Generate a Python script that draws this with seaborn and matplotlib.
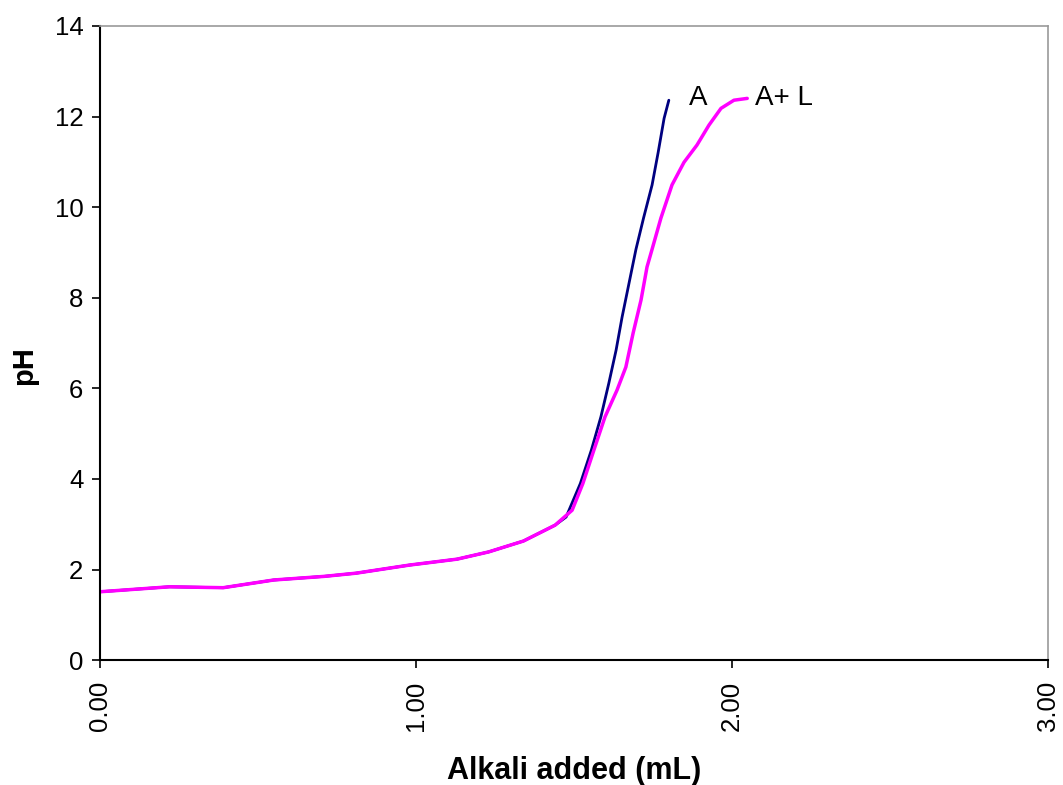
import matplotlib
matplotlib.use("Agg")
import matplotlib.pyplot as plt
import seaborn as sns
import pandas as pd
from matplotlib.ticker import FormatStrFormatter

sns.set_style("white")
plt.rcParams['font.family'] = ['Liberation Sans', 'DejaVu Sans']
plt.rcParams['text.color'] = 'black'
plt.rcParams['axes.labelcolor'] = 'black'
plt.rcParams['xtick.color'] = 'black'
plt.rcParams['ytick.color'] = 'black'

# Series A (acid alone)
a_x = [0.00, 0.22, 0.39, 0.55, 0.71, 0.81, 0.98, 1.13, 1.23, 1.34, 1.44, 1.475,
       1.52, 1.555, 1.585, 1.61, 1.633, 1.652, 1.674, 1.696, 1.72, 1.747, 1.766,
       1.785, 1.80]
a_y = [1.51, 1.62, 1.60, 1.77, 1.85, 1.92, 2.10, 2.23, 2.39, 2.63, 2.98, 3.16,
       3.90, 4.64, 5.37, 6.11, 6.84, 7.57, 8.32, 9.07, 9.76, 10.49, 11.20,
       11.96, 12.36]

# Series A + L
al_x = [0.00, 0.22, 0.39, 0.55, 0.71, 0.81, 0.98, 1.13, 1.23, 1.34, 1.44, 1.494,
        1.528, 1.563, 1.598, 1.636, 1.664, 1.687, 1.712, 1.731, 1.747, 1.775, 1.81,
        1.848, 1.889, 1.927, 1.965, 2.006, 2.048]
al_y = [1.51, 1.62, 1.60, 1.77, 1.85, 1.92, 2.10, 2.23, 2.39, 2.63, 2.98, 3.31,
        3.90, 4.64, 5.37, 5.96, 6.47, 7.22, 7.95, 8.68, 9.07, 9.76, 10.49,
        10.99, 11.37, 11.81, 12.18, 12.36, 12.40]

x_ticks = [0.0, 1.0, 2.0, 3.0]
y_ticks = [0, 2, 4, 6, 8, 10, 12, 14]

df_a = pd.DataFrame({"x": a_x, "y": a_y})
df_al = pd.DataFrame({"x": al_x, "y": al_y})

fig = plt.figure(figsize=(10.63, 7.85), dpi=100)
ax = fig.add_axes([0.094, 0.159, 0.892, 0.808])

sns.lineplot(data=df_a, x="x", y="y", ax=ax, color="#000080", linewidth=2.0,
             sort=False, estimator=None)
sns.lineplot(data=df_al, x="x", y="y", ax=ax, color="#FF00FF", linewidth=2.5,
             sort=False, estimator=None)

ax.set_xlim(0, 3)
ax.set_ylim(0, 14)
ax.set_xticks(x_ticks)
ax.set_yticks(y_ticks)
ax.xaxis.set_major_formatter(FormatStrFormatter("%.2f"))
ax.tick_params(axis="x", labelrotation=90, labelsize=18.5, length=6, width=1.2,
               direction="out", bottom=True, pad=9)
ax.tick_params(axis="y", labelsize=18.5, length=6, width=1.2, direction="out",
               left=True, pad=6)

for s in ["left", "bottom"]:
    ax.spines[s].set_color("black")
    ax.spines[s].set_linewidth(1.5)
for s in ["top", "right"]:
    ax.spines[s].set_color("#999999")
    ax.spines[s].set_linewidth(1.2)

ax.set_xlabel("Alkali added (mL)", fontsize=22, fontweight="bold")
ax.set_ylabel("pH", fontsize=21, fontweight="bold")
ax.xaxis.label.set_va("center")
ax.yaxis.label.set_va("center")
ax.xaxis.set_label_coords(0.5, -0.175)
ax.yaxis.set_label_coords(-0.080, 0.465)

ax.text(a_x[-1] + 0.065, 12.4, "A", fontsize=20, va="center", ha="left")
ax.text(al_x[-1] + 0.025, 12.4, "A+ L", fontsize=20, va="center", ha="left")

fig.savefig("out.png", dpi=100)
